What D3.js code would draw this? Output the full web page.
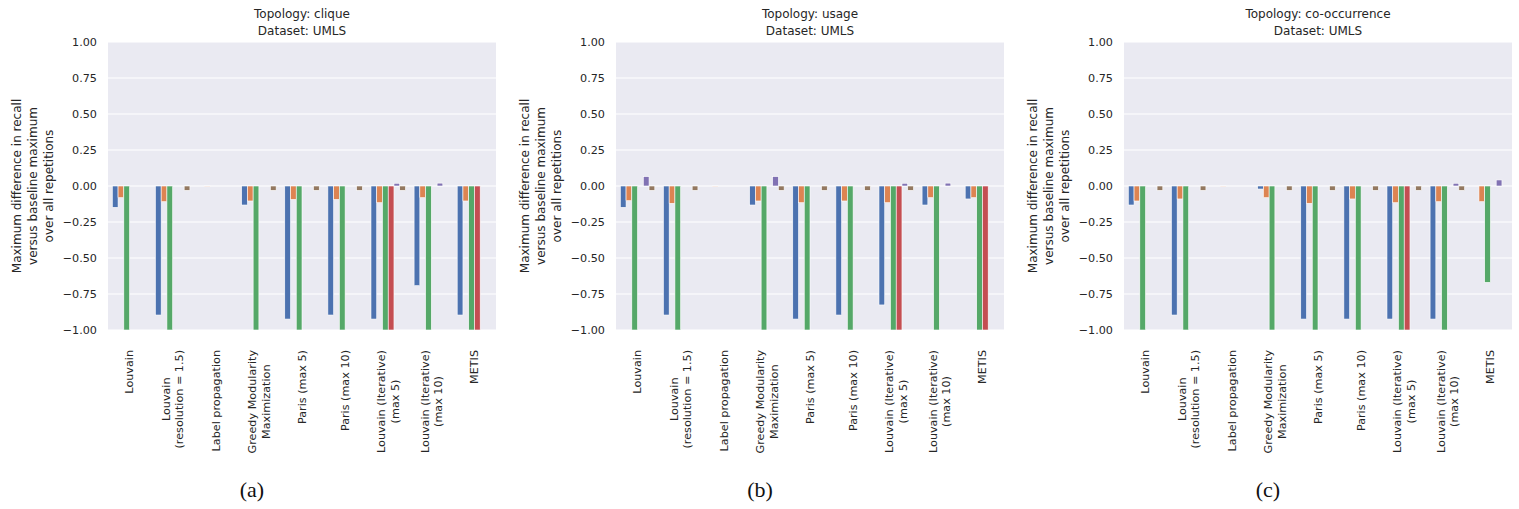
<!DOCTYPE html>
<html>
<head>
<meta charset="utf-8">
<script src="https://cdn.jsdelivr.net/npm/d3@7"></script>
<style>
  html, body { margin: 0; padding: 0; background: #ffffff; }
  svg { display: block; font-family: "DejaVu Sans", sans-serif; }
</style>
</head>
<body>
<div id="chart"></div>
<script>
  const categories = [
    "Louvain",
    "Louvain\n(resolution = 1.5)",
    "Label propagation",
    "Greedy Modularity\nMaximization",
    "Paris (max 5)",
    "Paris (max 10)",
    "Louvain (Iterative)\n(max 5)",
    "Louvain (Iterative)\n(max 10)",
    "METIS"
  ];
  const topologies = ["clique", "usage", "co-occurrence"];
  const captions = ["(a)", "(b)", "(c)"];
  const datasetName = "UMLS";
  const yTicks = [1, 0.75, 0.5, 0.25, 0, -0.25, -0.5, -0.75, -1];
  const seriesColors = ["#4c72b0", "#dd8452", "#55a868", "#c44e52", "#8172b3", "#937860"];

  // one row per hue (blue, orange, green, red, purple, brown), one value per category
  const cliqueSeries = [
    [-0.148, -0.896, null, -0.132, -0.924, -0.896, -0.924, -0.692, -0.896],
    [-0.081, -0.109, 0, -0.104, -0.093, -0.093, -0.116, -0.081, -0.104],
    [-1, -1, null, -1, -1, -1, -1, -1, -1],
    [null, null, null, null, null, null, -1, null, -1],
    [null, null, null, null, null, null, 0.019, 0.02, null],
    [null, -0.03, null, -0.03, -0.03, -0.03, -0.03, null, null]
  ];
  const usageSeries = [
    [-0.148, -0.896, null, -0.132, -0.924, -0.896, -0.826, -0.132, -0.09],
    [-0.102, -0.12, 0, -0.104, -0.116, -0.104, -0.116, -0.081, -0.081],
    [-1, -1, null, -1, -1, -1, -1, -1, -1],
    [null, null, null, null, null, null, -1, null, -1],
    [0.065, null, null, 0.065, null, null, 0.019, 0.02, null],
    [-0.03, -0.03, null, -0.03, -0.03, -0.03, -0.03, null, null]
  ];
  const cooccurrenceSeries = [
    [-0.132, -0.896, null, -0.021, -0.924, -0.924, -0.924, -0.924, null],
    [-0.104, -0.09, 0, -0.081, -0.12, -0.09, -0.116, -0.109, -0.109],
    [-1, -1, null, -1, -1, -1, -1, -1, -0.669],
    [null, null, null, null, null, null, -1, null, null],
    [null, null, null, null, null, null, null, 0.019, 0.042],
    [-0.03, -0.03, null, -0.03, -0.03, -0.03, -0.03, -0.03, null]
  ];
  const panelSeries = [cliqueSeries, usageSeries, cooccurrenceSeries];

  const width = 1519;
  const height = 509;
  const plotLeft = 108;
  const plotStep = 508;
  const plotTop = 42;
  const plotWidth = 388;
  const plotHeight = 288;
  const textColor = "#262626";

  const svg = d3.select("#chart")
    .append("svg")
    .attr("width", width)
    .attr("height", height);

  const x = d3.scaleBand().domain(d3.range(categories.length)).range([0, plotWidth]).padding(0);
  const hue = d3.scaleBand()
    .domain(d3.range(seriesColors.length))
    .range([x.bandwidth() * 0.1, x.bandwidth() * 0.9])
    .padding(0);
  const y = d3.scaleLinear().domain([-1, 1]).range([plotHeight, 0]);

  panelSeries.forEach((series, p) => {
    const g = svg.append("g")
      .attr("transform", `translate(${plotLeft + p * plotStep}, ${plotTop})`);

    g.append("rect")
      .attr("width", plotWidth)
      .attr("height", plotHeight)
      .attr("fill", "#eaeaf2");

    g.append("g")
      .selectAll("line")
      .data(yTicks)
      .join("line")
      .attr("x1", 0)
      .attr("x2", plotWidth)
      .attr("y1", (d) => y(d))
      .attr("y2", (d) => y(d))
      .attr("stroke", "#ffffff")
      .attr("stroke-width", 1.2);

    const bars = [];
    series.forEach((values, s) => {
      values.forEach((v, c) => {
        if (v !== null) bars.push({ s, c, v });
      });
    });

    g.append("g")
      .selectAll("rect")
      .data(bars)
      .join("rect")
      .attr("x", (d) => x(d.c) + hue(d.s))
      .attr("width", hue.bandwidth())
      .attr("y", (d) => y(Math.max(d.v, 0)))
      .attr("height", (d) => Math.max(Math.abs(y(d.v) - y(0)), 0.3))
      .attr("fill", (d) => seriesColors[d.s])
      .attr("stroke", "#ffffff")
      .attr("stroke-width", 0.6);

    const yAxis = g.append("g")
      .call(d3.axisLeft(y).tickValues(yTicks).tickFormat(d3.format(".2f")).tickSize(0).tickPadding(11));
    yAxis.select(".domain").remove();
    yAxis.selectAll("text")
      .attr("fill", textColor)
      .attr("font-size", 11.2)
      .attr("font-family", "DejaVu Sans");

    const xAxis = g.append("g")
      .attr("transform", `translate(0, ${plotHeight})`)
      .call(d3.axisBottom(x).tickSize(0).tickFormat(() => ""));
    xAxis.select(".domain").remove();

    const lineHeight = 13.5;
    xAxis.selectAll(".tick text").each(function (c) {
      const lines = categories[c].split("\n");
      const text = d3.select(this)
        .attr("transform", "rotate(-90)")
        .attr("y", null)
        .attr("dy", null)
        .attr("text-anchor", "middle")
        .attr("fill", textColor)
        .attr("font-size", 11.2)
        .attr("font-family", "DejaVu Sans");
      const spans = lines.map((line, i) => text.append("tspan")
        .attr("y", (i - (lines.length - 1) / 2) * lineHeight)
        .attr("dy", "0.35em")
        .text(line));
      const maxLen = d3.max(spans, (t) => t.node().getComputedTextLength());
      spans.forEach((t) => t.attr("x", -(20 + maxLen / 2)));
    });

    const cx = plotWidth / 2;
    g.append("text")
      .attr("x", cx)
      .attr("y", -24.5)
      .attr("text-anchor", "middle")
      .attr("fill", textColor)
      .attr("font-size", 12)
      .text(`Topology: ${topologies[p]}`);
    g.append("text")
      .attr("x", cx)
      .attr("y", -7.5)
      .attr("text-anchor", "middle")
      .attr("fill", textColor)
      .attr("font-size", 12)
      .text(`Dataset: ${datasetName}`);

    const yLabel = ["Maximum difference in recall", "versus baseline maximum", "over all repetitions"];
    const ylab = g.append("text")
      .attr("transform", `translate(-91, ${plotHeight / 2}) rotate(-90)`)
      .attr("text-anchor", "middle")
      .attr("fill", textColor)
      .attr("font-size", 12);
    yLabel.forEach((line, i) => {
      ylab.append("tspan")
        .attr("x", 0)
        .attr("y", i * 15.8)
        .attr("dy", "0.35em")
        .text(line);
    });

    svg.append("text")
      .attr("x", plotLeft + p * plotStep + 144)
      .attr("y", 497)
      .attr("text-anchor", "middle")
      .attr("fill", "#111111")
      .attr("font-family", "'Liberation Serif', serif")
      .attr("font-size", 22)
      .text(captions[p]);
  });
</script>
</body>
</html>
